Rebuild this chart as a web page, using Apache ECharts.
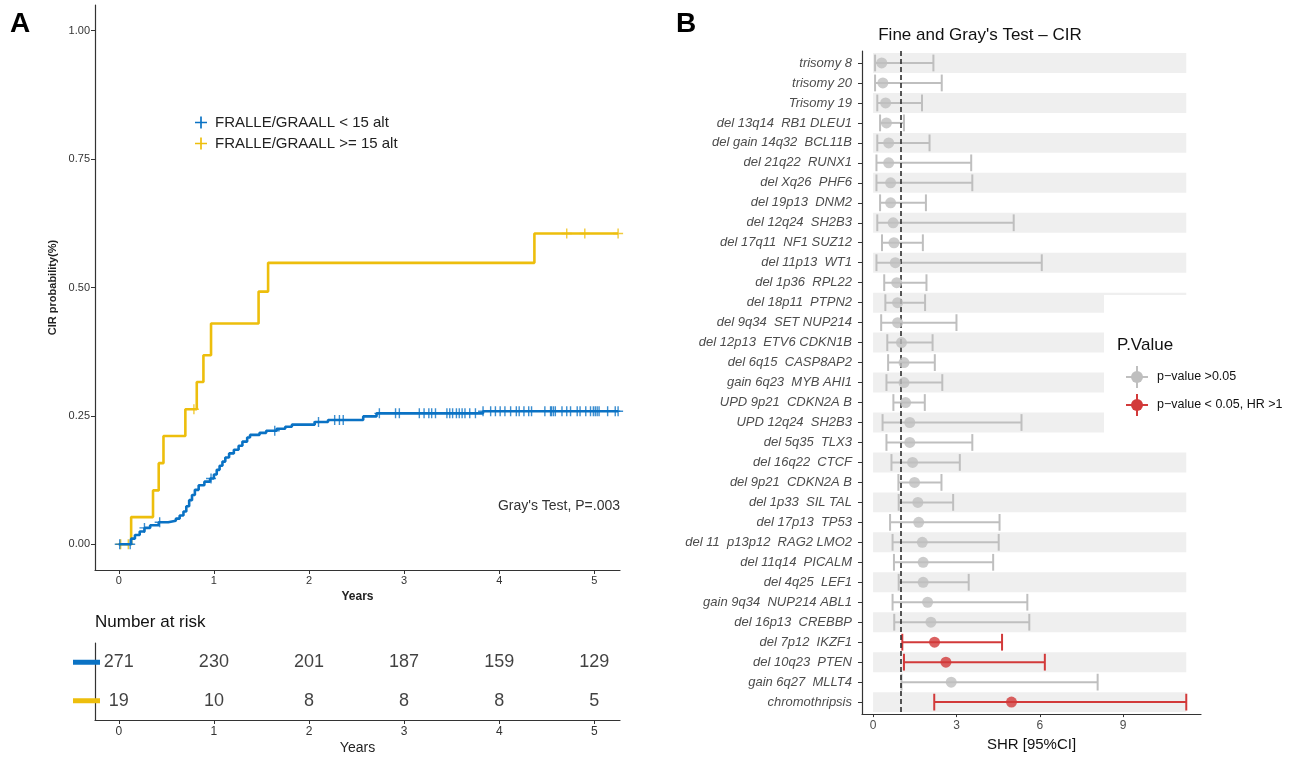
<!DOCTYPE html>
<html>
<head>
<meta charset="utf-8">
<script src="https://cdn.jsdelivr.net/npm/echarts@6/dist/echarts.min.js"></script>
<style>
  html, body { margin: 0; padding: 0; background: #fff; }
  #chart { width: 1298px; height: 757px; }
</style>
</head>
<body>
<div id="chart"></div>
<script>
// ---- panel A : cumulative incidence of relapse ----
const blueTimes  = [0, 0.13, 0.17, 0.22, 0.27, 0.33, 0.42, 0.52, 0.60, 0.64, 0.68, 0.71, 0.74, 0.77, 0.80, 0.84, 0.90, 0.96, 1.00, 1.03, 1.06, 1.09, 1.12, 1.16, 1.21, 1.26, 1.30, 1.35, 1.38, 1.48, 1.55, 1.66, 1.75, 1.82, 2.06, 2.20, 2.57, 2.71, 3.83, 5.25];
const blueCIR    = [0, 0.011, 0.018, 0.025, 0.032, 0.037, 0.043, 0.046, 0.050, 0.056, 0.064, 0.074, 0.086, 0.096, 0.106, 0.115, 0.122, 0.128, 0.136, 0.145, 0.153, 0.161, 0.169, 0.177, 0.184, 0.192, 0.200, 0.208, 0.213, 0.217, 0.221, 0.225, 0.229, 0.233, 0.238, 0.242, 0.249, 0.255, 0.259, 0.259];
const yellowTimes = [0, 0.13, 0.36, 0.42, 0.47, 0.70, 0.82, 0.89, 0.97, 1.47, 1.57, 4.37, 5.25];
const yellowCIR   = [0, 0.053, 0.105, 0.158, 0.211, 0.263, 0.316, 0.368, 0.430, 0.492, 0.548, 0.605, 0.605];
const blueCensored = [0.01, 0.12, 0.27, 0.43, 0.97, 1.64, 2.10, 2.27, 2.32, 2.36, 2.74, 2.91, 2.95, 3.16, 3.21, 3.26, 3.29, 3.33, 3.45, 3.48, 3.51, 3.55, 3.58, 3.61, 3.64, 3.69, 3.75, 3.83, 3.91, 3.96, 4.01, 4.06, 4.12, 4.18, 4.21, 4.26, 4.31, 4.34, 4.48, 4.54, 4.55, 4.57, 4.59, 4.66, 4.71, 4.75, 4.82, 4.85, 4.91, 4.96, 4.99, 5.01, 5.03, 5.05, 5.14, 5.22, 5.25];
const yellowCensored = [0.02, 0.10, 0.79, 4.71, 4.90, 5.25];
const groupNames = ['FRALLE/GRAALL < 15 alt', 'FRALLE/GRAALL >= 15 alt'];
const riskYears = [0, 1, 2, 3, 4, 5];
const riskLow  = [271, 230, 201, 187, 159, 129];
const riskHigh = [19, 10, 8, 8, 8, 5];
const yTicksA = [0, 0.25, 0.5, 0.75, 1];

// ---- panel B : Fine and Gray forest plot ----
const lesions = ['trisomy 8', 'trisomy 20', 'Trisomy 19', 'del 13q14  RB1 DLEU1', 'del gain 14q32  BCL11B', 'del 21q22  RUNX1', 'del Xq26  PHF6', 'del 19p13  DNM2', 'del 12q24  SH2B3', 'del 17q11  NF1 SUZ12', 'del 11p13  WT1', 'del 1p36  RPL22', 'del 18p11  PTPN2', 'del 9q34  SET NUP214', 'del 12p13  ETV6 CDKN1B', 'del 6q15  CASP8AP2', 'gain 6q23  MYB AHI1', 'UPD 9p21  CDKN2A B', 'UPD 12q24  SH2B3', 'del 5q35  TLX3', 'del 16q22  CTCF', 'del 9p21  CDKN2A B', 'del 1p33  SIL TAL', 'del 17p13  TP53', 'del 11  p13p12  RAG2 LMO2', 'del 11q14  PICALM', 'del 4q25  LEF1', 'gain 9q34  NUP214 ABL1', 'del 16p13  CREBBP', 'del 7p12  IKZF1', 'del 10q23  PTEN', 'gain 6q27  MLLT4', 'chromothripsis'];
const shr   = [0.31, 0.35, 0.45, 0.48, 0.56, 0.56, 0.63, 0.63, 0.72, 0.75, 0.80, 0.85, 0.88, 0.88, 1.02, 1.11, 1.11, 1.17, 1.32, 1.32, 1.42, 1.49, 1.61, 1.64, 1.77, 1.80, 1.80, 1.96, 2.08, 2.21, 2.62, 2.81, 4.98];
const lower = [0.07, 0.07, 0.15, 0.25, 0.15, 0.12, 0.12, 0.25, 0.15, 0.32, 0.12, 0.40, 0.44, 0.29, 0.51, 0.54, 0.48, 0.73, 0.34, 0.48, 0.66, 0.91, 0.92, 0.61, 0.70, 0.75, 0.92, 0.70, 0.76, 1.05, 1.11, 1.02, 2.20];
const upper = [2.17, 2.47, 1.76, 1.11, 2.03, 3.53, 3.57, 1.90, 5.06, 1.79, 6.07, 1.92, 1.87, 3.00, 2.14, 2.22, 2.49, 1.86, 5.34, 3.57, 3.12, 2.46, 2.88, 4.55, 4.52, 4.32, 3.44, 5.55, 5.62, 4.64, 6.18, 8.08, 11.27];
const significant = [0, 0, 0, 0, 0, 0, 0, 0, 0, 0, 0, 0, 0, 0, 0, 0, 0, 0, 0, 0, 0, 0, 0, 0, 0, 0, 0, 0, 0, 1, 1, 0, 1];
const xTicksB = [0, 3, 6, 9];
const pLegend = ['p\u2212value >0.05', 'p\u2212value < 0.05, HR >1'];

const FONT = "'Liberation Sans', Arial, Helvetica, sans-serif";
const BLUE = '#0A72C4', YELLOW = '#EDBE0C', GREY = '#BFBFBF', RED = '#D23A3A';
const PLUS = 'path://M4.3,0H5.7V4.3H10V5.7H5.7V10H4.3V5.7H0V4.3H4.3Z';

function stepAt(times, vals, t) {
    let v = vals[0];
    for (let i = 0; i < times.length; i++) { if (times[i] <= t) v = vals[i]; }
    return v;
}

// legend key of panel B: errorbar cross with a dot
function legendKey(cx, cy, color) {
    const st = { stroke: color, lineWidth: 2 };
    return [
        { type: 'line', z: 7, shape: { x1: cx - 11, y1: cy, x2: cx + 11, y2: cy }, style: st },
        { type: 'line', z: 7, shape: { x1: cx, y1: cy - 11, x2: cx, y2: cy + 11 }, style: st },
        { type: 'circle', z: 8, shape: { cx: cx, cy: cy, r: 6 }, style: { fill: color } }
    ];
}

const chart = echarts.init(document.getElementById('chart'));
const rows = lesions.map((_, i) => i + 1);
const bandEnd = Math.max(...upper);
const axisLine = { show: true, onZero: false, lineStyle: { color: '#333', width: 1.2 } };

const option = {
    backgroundColor: '#fff',
    animation: false,
    textStyle: { fontFamily: FONT },
    legend: {
        data: groupNames,
        orient: 'vertical',
        left: 190, top: 110,
        icon: PLUS,
        itemWidth: 12, itemHeight: 12, itemGap: 6,
        textStyle: { fontSize: 15, color: '#222', fontFamily: FONT, padding: [0, 0, 0, 3] }
    },
    grid: [
        { left: 95, top: 5, width: 525, height: 565 },
        { left: 95, top: 643, width: 525, height: 77 },
        { left: 862, top: 51, width: 339, height: 668 }
    ],
    xAxis: [
        {
            gridIndex: 0, type: 'value', min: -0.25, max: 5.27,
            axisLine: axisLine, splitLine: { show: false },
            axisTick: { show: true, length: 4, customValues: riskYears, lineStyle: { color: '#333' } },
            axisLabel: { customValues: riskYears, fontSize: 11, color: '#333', margin: 5 },
            name: 'Years', nameLocation: 'middle', nameGap: 21,
            nameTextStyle: { fontWeight: 'bold', fontSize: 12, color: '#222' }
        },
        {
            gridIndex: 1, type: 'value', min: -0.25, max: 5.27,
            axisLine: axisLine, splitLine: { show: false },
            axisTick: { show: true, length: 4, customValues: riskYears, lineStyle: { color: '#333' } },
            axisLabel: { customValues: riskYears, fontSize: 12, color: '#333', margin: 6 },
            name: 'Years', nameLocation: 'middle', nameGap: 21,
            nameTextStyle: { fontSize: 14, color: '#222' }
        },
        {
            gridIndex: 2, type: 'value', min: -0.4, max: 11.8,
            axisLine: axisLine, splitLine: { show: false },
            axisTick: { show: true, length: 3, customValues: xTicksB, lineStyle: { color: '#333' } },
            axisLabel: { customValues: xTicksB, fontSize: 12, color: '#4d4d4d', margin: 6 },
            name: 'SHR [95%CI]', nameLocation: 'middle', nameGap: 19,
            nameTextStyle: { fontSize: 15, color: '#111' }
        }
    ],
    yAxis: [
        {
            gridIndex: 0, type: 'value', min: -0.05, max: 1.05,
            axisLine: axisLine, splitLine: { show: false },
            axisTick: { show: true, length: 4, customValues: yTicksA, lineStyle: { color: '#333' } },
            axisLabel: { customValues: yTicksA, fontSize: 11, color: '#333', margin: 5,
                formatter: v => v.toFixed(2) },
            name: 'CIR probability(%)', nameLocation: 'middle', nameGap: 37,
            nameTextStyle: { fontWeight: 'bold', fontSize: 11, color: '#222' }
        },
        {
            gridIndex: 1, type: 'category', data: ['low', 'high'], inverse: true,
            axisLine: axisLine, axisTick: { show: false },
            axisLabel: {
                margin: -5,
                formatter: v => v === 'low' ? '{b|}' : '{y|}',
                rich: {
                    b: { backgroundColor: BLUE, width: 27, height: 5 },
                    y: { backgroundColor: YELLOW, width: 27, height: 5 }
                }
            }
        },
        {
            gridIndex: 2, type: 'value', min: 0.4, max: 33.6, inverse: true,
            axisLine: axisLine, splitLine: { show: false },
            axisTick: { show: true, length: 4, customValues: rows, lineStyle: { color: '#333' } },
            axisLabel: { customValues: rows, fontSize: 13, fontStyle: 'italic', color: '#4d4d4d', margin: 10,
                formatter: v => lesions[Math.round(v) - 1] }
        }
    ],
    series: [
        {
            name: groupNames[1], type: 'line', step: 'end', xAxisIndex: 0, yAxisIndex: 0,
            showSymbol: false, color: YELLOW, lineStyle: { width: 2.6, color: YELLOW },
            data: yellowTimes.map((t, i) => [t, yellowCIR[i]]), z: 3
        },
        {
            name: groupNames[0], type: 'line', step: 'end', xAxisIndex: 0, yAxisIndex: 0,
            showSymbol: false, color: BLUE, lineStyle: { width: 2.6, color: BLUE },
            data: blueTimes.map((t, i) => [t, blueCIR[i]]), z: 4
        },
        {
            type: 'scatter', xAxisIndex: 0, yAxisIndex: 0, symbol: PLUS, symbolSize: 10,
            itemStyle: { color: YELLOW }, silent: true, z: 3,
            data: yellowCensored.map(t => [t, stepAt(yellowTimes, yellowCIR, t)])
        },
        {
            type: 'scatter', xAxisIndex: 0, yAxisIndex: 0, symbol: PLUS, symbolSize: 10,
            itemStyle: { color: BLUE }, silent: true, z: 4,
            data: blueCensored.map(t => [t, stepAt(blueTimes, blueCIR, t)])
        },
        // number at risk
        {
            type: 'scatter', xAxisIndex: 1, yAxisIndex: 1, symbolSize: 0,
            label: { show: true, position: 'inside', fontSize: 18, color: '#111', formatter: p => p.value[2] },
            data: riskYears.map((t, i) => [t, 'low', riskLow[i]])
        },
        {
            type: 'scatter', xAxisIndex: 1, yAxisIndex: 1, symbolSize: 0,
            label: { show: true, position: 'inside', fontSize: 18, color: '#111', formatter: p => p.value[2] },
            data: riskYears.map((t, i) => [t, 'high', riskHigh[i]])
        },
        // alternating bands
        {
            type: 'custom', xAxisIndex: 2, yAxisIndex: 2, silent: true, z: 1,
            data: rows.filter(r => r % 2 === 1).map(r => [r]),
            renderItem: (params, api) => {
                const r = api.value(0);
                const a = api.coord([0, r - 0.5]);
                const b = api.coord([bandEnd, r + 0.5]);
                return { type: 'rect', shape: { x: a[0], y: Math.min(a[1], b[1]), width: b[0] - a[0], height: Math.abs(b[1] - a[1]) },
                    style: { fill: '#EFEFEF' } };
            }
        },
        // confidence intervals
        {
            type: 'custom', xAxisIndex: 2, yAxisIndex: 2, silent: true, z: 3,
            data: rows.map((r, i) => [r, lower[i], upper[i], significant[i]]),
            renderItem: (params, api) => {
                const r = api.value(0);
                const a = api.coord([api.value(1), r]);
                const b = api.coord([api.value(2), r]);
                const h = api.size([0, 1])[1] * 0.42;
                const c = api.value(3) ? RED : GREY;
                const st = { stroke: c, lineWidth: 2 };
                return { type: 'group', children: [
                    { type: 'line', shape: { x1: a[0], y1: a[1], x2: b[0], y2: b[1] }, style: st },
                    { type: 'line', shape: { x1: a[0], y1: a[1] - h, x2: a[0], y2: a[1] + h }, style: st },
                    { type: 'line', shape: { x1: b[0], y1: b[1] - h, x2: b[0], y2: b[1] + h }, style: st }
                ] };
            }
        },
        {
            type: 'scatter', xAxisIndex: 2, yAxisIndex: 2, symbolSize: 11, z: 5, silent: true,
            data: rows.map((r, i) => ({ value: [shr[i], r], itemStyle: { color: significant[i] ? RED : GREY } })),
            markLine: {
                silent: true, symbol: 'none', label: { show: false },
                lineStyle: { color: '#222', type: [5, 3], width: 1.5 },
                data: [{ xAxis: 1 }]
            }
        }
    ],
    graphic: [
        { type: 'text', left: 10, top: 10, style: { text: 'A', font: 'bold 28px ' + FONT, fill: '#000' } },
        { type: 'text', left: 676, top: 10, style: { text: 'B', font: 'bold 28px ' + FONT, fill: '#000' } },
        { type: 'text', x: 620, y: 506, style: { text: "Gray's Test, P=.003", font: '14px ' + FONT, fill: '#333', align: 'right', verticalAlign: 'middle' } },
        { type: 'text', x: 95, y: 622, style: { text: 'Number at risk', font: '17px ' + FONT, fill: '#111', verticalAlign: 'middle' } },
        { type: 'text', x: 980, y: 35, style: { text: "Fine and Gray's Test \u2013 CIR", font: '17px ' + FONT, fill: '#111', align: 'center', verticalAlign: 'middle' } },
        // legend of panel B
        { type: 'rect', z: 2, shape: { x: 1104, y: 295, width: 194, height: 156 }, style: { fill: '#fff' } },
        { type: 'text', z: 6, x: 1117, y: 345, style: { text: 'P.Value', font: '17px ' + FONT, fill: '#111', verticalAlign: 'middle' } },
        ...legendKey(1137, 377, GREY),
        ...legendKey(1137, 405, RED),
        { type: 'text', z: 6, x: 1157, y: 377, style: { text: pLegend[0], font: '12.5px ' + FONT, fill: '#111', verticalAlign: 'middle' } },
        { type: 'text', z: 6, x: 1157, y: 405, style: { text: pLegend[1], font: '12.5px ' + FONT, fill: '#111', verticalAlign: 'middle' } }
    ]
};

chart.setOption(option);
</script>
</body>
</html>
